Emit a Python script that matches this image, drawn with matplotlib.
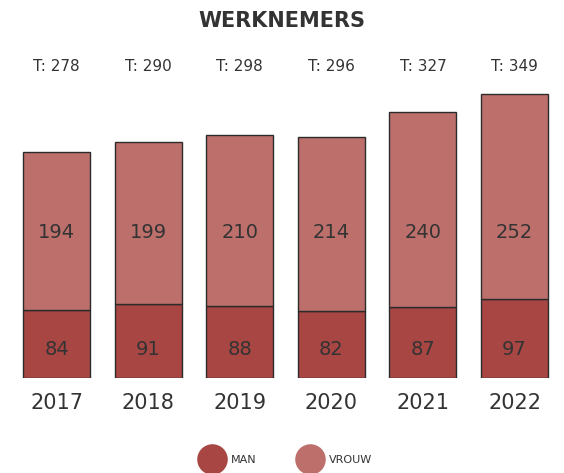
import matplotlib
matplotlib.use("Agg")
import matplotlib.pyplot as plt
from matplotlib.lines import Line2D

years = ["2017", "2018", "2019", "2020", "2021", "2022"]
man = [84, 91, 88, 82, 87, 97]
vrouw = [194, 199, 210, 214, 240, 252]
totals = [m + v for m, v in zip(man, vrouw)]

C_MAN = "#a84643"
C_VROUW = "#bd706b"
EDGE = "#2b2b2b"
TXT = "#333333"

plt.rcParams["font.family"] = ["DejaVu Sans"]

fig = plt.figure(figsize=(5.64, 4.73), dpi=100)
W, H = 564, 473
ax = fig.add_axes([0, (H - 378) / H, 1, (378 - 40) / H])
ax.set_xlim(-0.617, 5.54)
ax.set_ylim(0, 415)
ax.axis("off")

x = list(range(len(years)))
bw = 0.73
ax.bar(x, man, width=bw, color=C_MAN, edgecolor=EDGE, linewidth=1)
ax.bar(x, vrouw, bottom=man, width=bw, color=C_VROUW, edgecolor=EDGE, linewidth=1)

for i in x:
    ax.text(i, 35.6, str(man[i]), ha="center", va="center", fontsize=14, color=TXT)
    ax.text(i, 179, str(vrouw[i]), ha="center", va="center", fontsize=14, color=TXT)
    ax.text(i, 382, f"T: {totals[i]}", ha="center", va="center", fontsize=11, color=TXT)
    ax.text(i, -31, years[i], ha="center", va="center", fontsize=15, color=TXT)

fig.text(0.5, 1 - 21 / H, "WERKNEMERS", ha="center", va="center", fontsize=15,
         fontweight="bold", color=TXT)

handles = [Line2D([], [], marker="o", linestyle="none", markersize=22,
                  markerfacecolor=C_MAN, markeredgecolor="none"),
           Line2D([], [], marker="o", linestyle="none", markersize=22,
                  markerfacecolor=C_VROUW, markeredgecolor="none")]
fig.legend(handles, ["MAN", "VROUW"], loc="center", bbox_to_anchor=(288 / W, 1 - 460 / H),
           ncol=2, frameon=False, fontsize=8, labelcolor=TXT, handletextpad=1.0,
           columnspacing=4.0, handlelength=1.5)

fig.savefig("out.png", dpi=100)
